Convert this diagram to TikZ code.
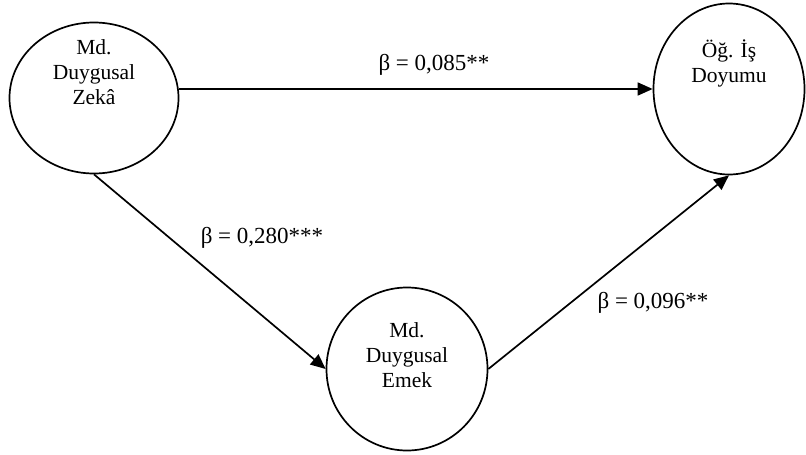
\documentclass[tikz,border=0pt]{standalone}
\usepackage{fontspec}
\setmainfont{Liberation Serif}
\usetikzlibrary{shapes.geometric,arrows.meta}

\begin{document}
\begin{tikzpicture}[x=1pt,y=-1pt,
  var/.style={draw,ellipse,line width=1.7pt,inner sep=0pt},
  txt/.style={align=center,inner sep=0pt,font=\fontsize{21.5}{25}\selectfont},
  coef/.style={anchor=base,inner sep=0pt,font=\fontsize{23}{26}\selectfont},
  arr/.style={line width=1.7pt,-{Triangle[length=15pt,width=13pt]}}]
\useasboundingbox (0,0) rectangle (806,455);

\node[var,minimum width=169pt,minimum height=151pt] (zeka) at (94,98) {};
\node[txt] (zekaT) at (94,72) {Md.\\Duygusal\\Zekâ};

\node[var,minimum width=151pt,minimum height=171pt] (doyum) at (729,89) {};
\node[txt] (doyumT) at (729,63) {Öğ. İş\\Doyumu};

\node[var,minimum width=161pt,minimum height=163pt] (emek) at (407,369) {};
\node[txt] (emekT) at (407,355) {Md.\\Duygusal\\Emek};

\draw[arr] (doyum.west -| zeka.east) -- (doyum.west);
\node[coef] (b1) at (434,70) {β = 0,085**};

\draw[arr] (zeka.south) -- (emek.west);
\node[coef] (b2) at (262,243) {β = 0,280***};

\draw[arr] (emek.east) -- (doyum.south);
\node[coef] (b3) at (653,308) {β = 0,096**};

\end{tikzpicture}
\end{document}
